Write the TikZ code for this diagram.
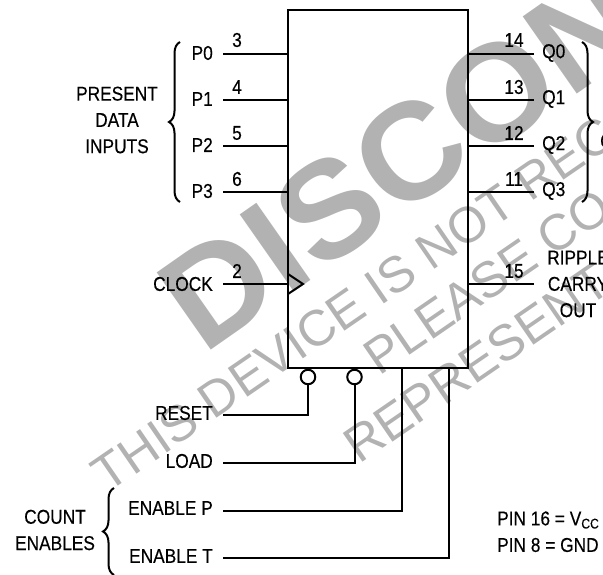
\documentclass[tikz,border=0pt]{standalone}
\usepackage{fontspec}
\setmainfont[FakeStretch=0.865,FakeBold=0.3]{Liberation Sans}
\newfontfamily\markbold[FakeStretch=1.03]{Liberation Sans Bold}
\newfontfamily\markthin{Liberation Sans}
\usetikzlibrary{calc,decorations.pathreplacing}
\tikzset{
	pinline/.style={line width=2pt},
	bigbrace/.style={line width=2pt, decorate, decoration={brace, amplitude=11pt, aspect=0.5}},
	lab/.style={inner sep=0pt, font=\fontsize{20}{26.3}\selectfont, align=center},
	pinnum/.style={inner sep=0pt, font=\fontsize{20}{22}\selectfont},
	bubble/.style={circle, draw, line width=2pt, fill=white, minimum size=14.5pt, inner sep=0pt},
	bigmark/.style={inner sep=0pt, anchor=base west, rotate=35, text=black!30, font=\markbold\fontsize{137}{137}\selectfont},
	thinmark/.style={inner sep=0pt, anchor=base west, rotate=34.5, text=black!30, font=\markthin\fontsize{50.5}{50.5}\selectfont}
}

\begin{document}
\begin{tikzpicture}[x=1pt, y=-1pt]
			%%%%% START %%%%%
			
			\useasboundingbox (0, 0) rectangle (603, 575);
			\clip (0, 0) rectangle (603, 575);
			
			\node[bigmark] (disc) at (203, 356) {DISCON};
			\node[thinmark] (dev) at (107.5, 493.7) {THIS DEVICE IS NOT REC};
			\node[thinmark] (ple) at (379, 377) {PLEASE CO};
			\node[thinmark] (rep) at (359, 465) {REPRESENT};
			
			\node[draw, line width=2.2pt, minimum width=180pt, minimum height=358pt, inner sep=0pt] (chip) at (378, 189) {};
			
			\node[lab, anchor=east] (p0) at (213, 53) {P0};
			\node[lab, anchor=east] (p1) at (213, 99) {P1};
			\node[lab, anchor=east] (p2) at (213, 145) {P2};
			\node[lab, anchor=east] (p3) at (213, 191) {P3};
			\node[lab, anchor=east] (clock) at (213, 284) {CLOCK};
			\node[lab] (present) at (117, 120) {PRESENT\\DATA\\INPUTS};
			
			\coordinate (p0in) at (223, 54);
			\coordinate (p1in) at (223, 100);
			\coordinate (p2in) at (223, 146);
			\coordinate (p3in) at (223, 192);
			\coordinate (clkin) at (223, 284);
			\draw[pinline] (p0in) -- (p0in -| chip.west);
			\draw[pinline] (p1in) -- (p1in -| chip.west);
			\draw[pinline] (p2in) -- (p2in -| chip.west);
			\draw[pinline] (p3in) -- (p3in -| chip.west);
			\draw[pinline] (clkin) -- (clkin -| chip.west);
			\draw[pinline] (288, 274) -- (303, 284) -- (288, 294);
			
			\node[pinnum] (n3) at (237, 40) {3};
			\node[pinnum] (n4) at (237, 87) {4};
			\node[pinnum] (n5) at (237, 133) {5};
			\node[pinnum] (n6) at (237, 179) {6};
			\node[pinnum] (n2) at (237, 271) {2};
			
			\node[lab, anchor=west] (q0) at (542, 53) {Q0};
			\node[lab, anchor=west] (q1) at (542, 99) {Q1};
			\node[lab, anchor=west] (q2) at (542, 145) {Q2};
			\node[lab, anchor=west] (q3) at (542, 191) {Q3};
			\node[lab] (ripple) at (578, 284) {RIPPLE\\CARRY\\OUT};
			\node[lab, anchor=west] (outs) at (600, 141) {O};
			
			\coordinate (q0out) at (534, 54);
			\coordinate (q1out) at (534, 100);
			\coordinate (q2out) at (534, 146);
			\coordinate (q3out) at (534, 192);
			\coordinate (rcout) at (534, 284);
			\draw[pinline] (q0out) -- (q0out -| chip.east);
			\draw[pinline] (q1out) -- (q1out -| chip.east);
			\draw[pinline] (q2out) -- (q2out -| chip.east);
			\draw[pinline] (q3out) -- (q3out -| chip.east);
			\draw[pinline] (rcout) -- (rcout -| chip.east);
			
			\node[pinnum] (n14) at (514, 40) {14};
			\node[pinnum] (n13) at (514, 87) {13};
			\node[pinnum] (n12) at (514, 133) {12};
			\node[pinnum] (n11) at (514, 179) {11};
			\node[pinnum] (n15) at (514, 271) {15};
			
			\node[lab, anchor=east] (reset) at (213, 413) {RESET};
			\node[lab, anchor=east] (load) at (213, 461) {LOAD};
			\node[lab, anchor=east] (enp) at (213, 508) {ENABLE P};
			\node[lab, anchor=east] (ent) at (213, 556) {ENABLE T};
			\node[lab] (count) at (55, 530) {COUNT\\ENABLES};
			
			\node[bubble] (rb) at (308, 377) {};
			\node[bubble] (lb) at (354.5, 377) {};
			\coordinate (rstin) at (223, 415);
			\coordinate (ldin) at (223, 463);
			\coordinate (epin) at (223, 511);
			\coordinate (etin) at (223, 558);
			\coordinate (epup) at (402, 368);
			\coordinate (etup) at (449, 368);
			\draw[pinline] (rstin) -| (rb.south);
			\draw[pinline] (ldin) -| (lb.south);
			\draw[pinline] (epin) -| (epup);
			\draw[pinline] (etin) -| (etup);
			
			\draw[bigbrace] (180, 202) -- (180, 42);
			\draw[bigbrace] (582, 42) -- (582, 202);
			\draw[bigbrace] (114, 575) -- (114, 488);
			
			\node[lab, anchor=west] (vcc) at (497, 520) {PIN 16 = V\textsubscript{CC}};
			\node[lab, anchor=west] (gnd) at (497, 545) {PIN 8 = GND};
			
			%%%%% END %%%%%
		\end{tikzpicture}
\end{document}
